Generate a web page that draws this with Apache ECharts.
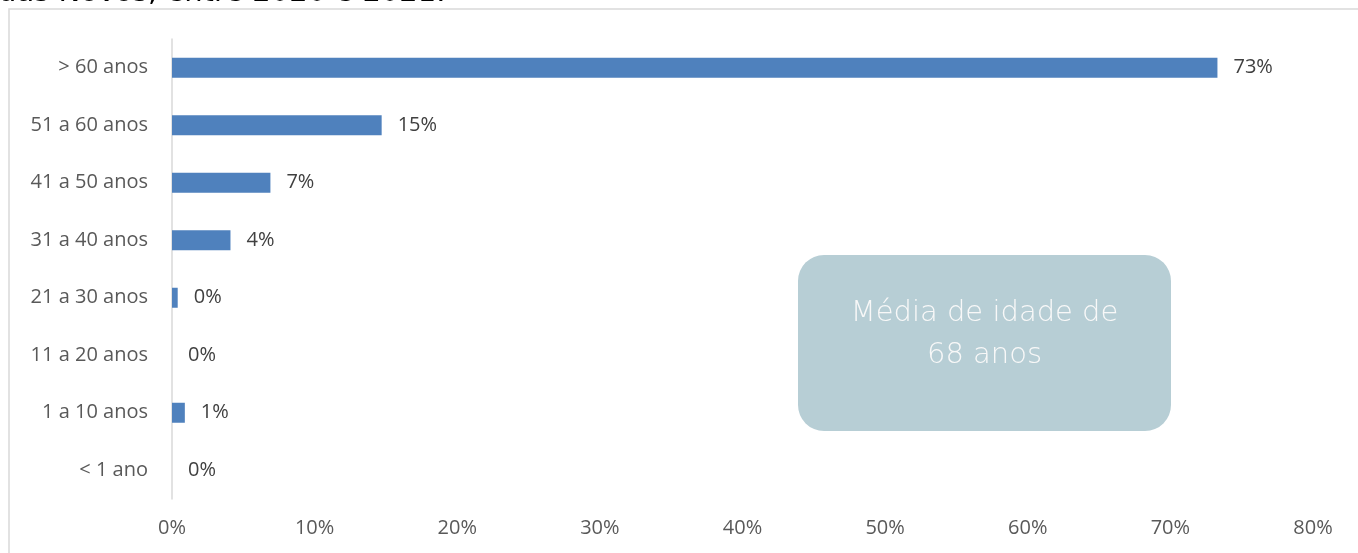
<!DOCTYPE html>
<html><head><meta charset="utf-8">
<script src="https://cdn.jsdelivr.net/npm/echarts@6/dist/echarts.min.js"></script>
<style>html,body{margin:0;padding:0;background:#fff}#c{width:1358px;height:553px}</style>
</head><body><div id="c"></div>
<script>
const categories = ['< 1 ano','1 a 10 anos','11 a 20 anos','21 a 30 anos','31 a 40 anos','41 a 50 anos','51 a 60 anos','> 60 anos'];
const values = [0, 0.9, 0, 0.4, 4.1, 6.9, 14.7, 73.3];
const xTicks = [0, 10, 20, 30, 40, 50, 60, 70, 80];
const titleText = 'das Novos, entre 2020 e 2021.';
const boxText = 'Média de idade de\n68 anos';

const chart = echarts.init(document.getElementById('c'));
chart.setOption({
  animation: false,
  grid: {left: 172, right: 45, top: 39, bottom: 54, containLabel: false},
  xAxis: {
    type: 'value', min: xTicks[0], max: xTicks[xTicks.length-1], interval: 10,
    axisLine: {show: false}, axisTick: {show: false}, splitLine: {show: false},
    axisLabel: {formatter: v => v + '%', color: '#595959', fontFamily: 'Open Sans', fontSize: 20, margin: 19}
  },
  yAxis: {
    type: 'category', data: categories,
    axisLine: {show: true, lineStyle: {color: '#d9d9d9', width: 1.5}},
    axisTick: {show: false},
    axisLabel: {color: '#595959', fontFamily: 'Open Sans', fontSize: 20, margin: 24}
  },
  series: [{
    type: 'bar', data: values, barWidth: 20,
    itemStyle: {color: '#4f81bd'},
    label: {show: true, position: 'right', distance: 16, color: '#404040', fontFamily: 'Open Sans', fontSize: 20,
      formatter: p => Math.round(p.value) + '%'}
  }],
  graphic: [
    {type: 'rect', shape: {x: 9, y: 9, width: 1360, height: 560}, style: {fill: 'none', stroke: '#d9d9d9', lineWidth: 1.5}, silent: true},
    {type: 'text', left: -2, top: -21, style: {text: titleText, fontFamily: 'DejaVu Sans', fontSize: 29, fill: '#000'}},
    {type: 'rect', shape: {x: 798, y: 255, width: 373, height: 176, r: 26}, style: {fill: '#b7ced5'}},
    {type: 'text', x: 984.5, y: 334, style: {text: boxText, fontFamily: 'DejaVu Sans', fontWeight: 200, fontSize: 29, lineHeight: 42, fill: '#f8f8f8', align: 'center', verticalAlign: 'middle'}}
  ]
});
</script></body></html>
